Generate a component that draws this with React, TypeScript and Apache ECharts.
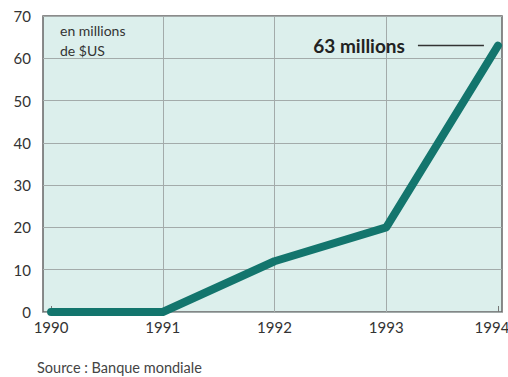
import React, { useEffect, useRef } from "react";
import * as echarts from "echarts";

const years = [1990, 1991, 1992, 1993, 1994];
const values = [0, 0, 12, 20, 63];
const yTicks = [0, 10, 20, 30, 40, 50, 60, 70];
const unitLines = ["en millions", "de $US"];
const sourceText = "Source : Banque mondiale";
const calloutSuffix = " millions";

export default function App() {
  const ref = useRef<HTMLDivElement>(null);
  useEffect(() => {
    if (!ref.current) return;
    const chart = echarts.init(ref.current, null, { renderer: "svg" });
    const font = "Lato, 'Open Sans', sans-serif";
    const last = values.length - 1;
    const data = years.map((y, i) => {
      const p: any = { value: [y, values[i]] };
      if (i === last) {
        p.label = {
          show: true,
          position: "left",
          distance: 14,
          formatter: `{t|${values[i]}${calloutSuffix}}{g|}{l|}`,
          rich: {
            t: { fontSize: 19, color: "#222", fontFamily: font, fontWeight: "bold" },
            g: { width: 13 },
            l: { width: 66, height: 1.5, backgroundColor: "#333" },
          },
        };
      }
      return p;
    });
    const lbl = { color: "#333", fontSize: 15, fontFamily: font };
    chart.setOption({
      animation: false,
      backgroundColor: "#ffffff",
      grid: {
        left: 43,
        right: 6,
        top: 16,
        bottom: 65,
        outerBoundsMode: "none",
        containLabel: false,
        show: true,
        backgroundColor: "#dcefec",
        borderColor: "#666",
        borderWidth: 1.5,
      },
      xAxis: {
        type: "value",
        min: 1989.928,
        max: 1994.036,
        axisLine: { show: false },
        axisTick: {
          show: true,
          customValues: [years[0], years[years.length - 1]],
          inside: true,
          length: 6,
          lineStyle: { color: "#777", width: 1 },
        },
        splitLine: { show: false },
        axisLabel: {
          customValues: years,
          formatter: (v: number) =>
            v === years[years.length - 1] ? `{e|${v}}{s|}` : `{e|${v}}`,
          rich: { e: { ...lbl }, s: { width: 12 } },
          ...lbl,
          margin: 7,
          hideOverlap: false,
        },
      },
      yAxis: {
        type: "value",
        min: yTicks[0],
        max: yTicks[yTicks.length - 1],
        interval: 10,
        axisLine: { show: false },
        axisTick: { show: false },
        splitLine: { lineStyle: { color: "#a3abaa", width: 1 } },
        axisLabel: { ...lbl, margin: 12 },
      },
      series: [
        {
          type: "line",
          data,
          symbol: "circle",
          symbolSize: 0.1,
          showSymbol: true,
          itemStyle: { color: "#13756d" },
          lineStyle: { color: "#13756d", width: 8, join: "round", cap: "round" },
          markLine: {
            silent: true,
            symbol: "none",
            label: { show: false },
            lineStyle: { color: "#a3abaa", width: 1, type: "solid" },
            data: years.slice(1, -1).map((y) => ({ xAxis: y })),
            z: 1,
          },
          z: 3,
        },
      ],
      graphic: [
        {
          type: "text",
          left: 60,
          top: 20,
          style: {
            text: unitLines.join("\n"),
            fontSize: 14,
            lineHeight: 20,
            fill: "#333",
            fontFamily: font,
          },
        },
        {
          type: "text",
          left: 37,
          top: 360,
          style: {
            text: sourceText,
            fontSize: 14.5,
            fill: "#444",
            fontFamily: font,
          },
        },
      ],
    });
    return () => chart.dispose();
  }, []);
  return <div ref={ref} style={{ width: 508, height: 377, position: "absolute", left: 0, top: 0 }} />;
}
